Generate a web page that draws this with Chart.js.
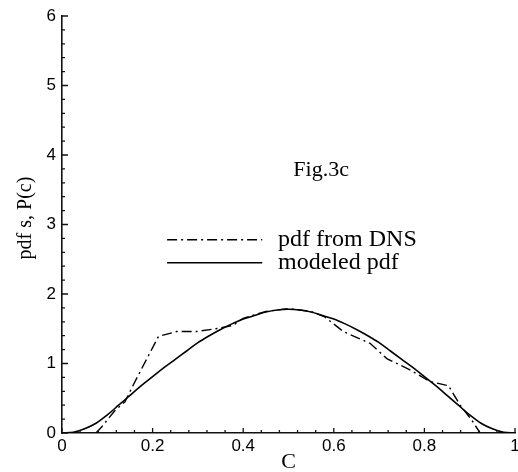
<!DOCTYPE html>
<html>
<head>
<meta charset="utf-8">
<script src="https://cdn.jsdelivr.net/npm/chart.js@4.4.1/dist/chart.umd.min.js"></script>
<style>
  html, body { margin: 0; padding: 0; background: #fff; }
  #wrap { width: 518px; height: 472px; }
</style>
</head>
<body>
<div id="wrap"><canvas id="pdfChart" width="518" height="472"></canvas></div>
<script>
// modeled pdf, P(c), sampled every 0.025
const modelC = [0, 0.025, 0.05, 0.075, 0.10, 0.125, 0.15, 0.175, 0.20, 0.225, 0.25, 0.275, 0.30, 0.325, 0.35, 0.375,
                0.40, 0.425, 0.45, 0.475, 0.50, 0.525, 0.55, 0.575, 0.60, 0.625, 0.65, 0.675, 0.70, 0.725, 0.75,
                0.775, 0.80, 0.825, 0.85, 0.875, 0.90, 0.925, 0.95, 0.975, 1.0];
const modelP = [0, 0.01, 0.06, 0.14, 0.26, 0.40, 0.54, 0.68, 0.81, 0.94, 1.06, 1.18, 1.30, 1.40, 1.49, 1.57,
                1.64, 1.69, 1.74, 1.77, 1.78, 1.77, 1.74, 1.69, 1.64, 1.57, 1.49, 1.40, 1.30, 1.18, 1.06,
                0.94, 0.81, 0.68, 0.54, 0.40, 0.26, 0.14, 0.06, 0.01, 0];

// pdf from DNS
const dnsC = [0.075, 0.088, 0.115, 0.139, 0.165, 0.213, 0.253, 0.297, 0.349, 0.378, 0.40, 0.45, 0.50, 0.55, 0.58,
              0.621, 0.68, 0.717, 0.768, 0.812, 0.853, 0.879, 0.904, 0.923];
const dnsP = [0, 0.09, 0.31, 0.45, 0.79, 1.39, 1.46, 1.46, 1.51, 1.55, 1.65, 1.75, 1.79, 1.75, 1.67,
              1.46, 1.29, 1.07, 0.91, 0.74, 0.68, 0.40, 0.19, 0];

const xTicks = [0, 0.2, 0.4, 0.6, 0.8, 1];
const yTicks = [0, 1, 2, 3, 4, 5, 6];

const legendLabels = ['pdf from DNS', 'modeled pdf'];
const figLabel = 'Fig.3c';
const xTitle = 'C';
const yTitle = 'pdf s, P(c)';

const SERIF = '"Liberation Serif", "Times New Roman", serif';
const SANS = '"Liberation Sans", Arial, sans-serif';
const DASH_DOT = [10, 4, 2, 4];

const toPoints = (xs, ys) => xs.map((x, i) => ({ x: x, y: ys[i] }));

// inward tick marks, minor and major
const tickMarks = {
    id: 'tickMarks',
    afterDraw(chart) {
        const { ctx, chartArea, scales } = chart;
        const xs = scales.x, ys = scales.y;
        ctx.save();
        ctx.strokeStyle = '#111';
        ctx.lineWidth = 1.3;
        ctx.beginPath();
        for (let i = 0; i <= 25; i++) {
            const px = xs.getPixelForValue(i * 0.04);
            const len = i % 5 === 0 ? 5 : 3;
            ctx.moveTo(px, chartArea.bottom);
            ctx.lineTo(px, chartArea.bottom - len);
        }
        for (let i = 0; i <= 30; i++) {
            const py = ys.getPixelForValue(i * 0.2);
            const len = i % 5 === 0 ? 6 : 3;
            ctx.moveTo(chartArea.left, py);
            ctx.lineTo(chartArea.left + len, py);
        }
        ctx.stroke();
        ctx.restore();
    }
};

// legend, figure label and axis titles
const annotations = {
    id: 'annotations',
    afterDraw(chart) {
        const { ctx, chartArea, scales } = chart;
        const xs = scales.x, ys = scales.y;
        ctx.save();
        ctx.fillStyle = '#000';
        ctx.strokeStyle = '#000';
        ctx.textBaseline = 'middle';

        ctx.font = '22px ' + SERIF;
        ctx.textAlign = 'center';
        ctx.fillText(figLabel, xs.getPixelForValue(0.572), ys.getPixelForValue(3.78));

        const x0 = xs.getPixelForValue(0.232);
        const x1 = xs.getPixelForValue(0.442);
        const xt = xs.getPixelForValue(0.477);
        const rows = [2.78, 2.45];
        ctx.font = '24px ' + SERIF;
        ctx.textAlign = 'left';
        rows.forEach((v, i) => {
            const py = ys.getPixelForValue(v);
            ctx.beginPath();
            ctx.lineWidth = 1.4;
            ctx.setLineDash(i === 0 ? DASH_DOT : []);
            ctx.moveTo(x0, py);
            ctx.lineTo(x1, py);
            ctx.stroke();
            ctx.setLineDash([]);
            ctx.fillText(legendLabels[i], xt, py);
        });

        ctx.font = '22px ' + SERIF;
        ctx.textAlign = 'center';
        ctx.fillText(xTitle, (chartArea.left + chartArea.right) / 2, 462);

        ctx.translate(26, 218);
        ctx.rotate(-Math.PI / 2);
        ctx.font = '20px ' + SERIF;
        ctx.fillText(yTitle, 0, 0);
        ctx.restore();
    }
};

new Chart(document.getElementById('pdfChart'), {
    type: 'line',
    data: {
        datasets: [
            {
                label: legendLabels[0],
                data: toPoints(dnsC, dnsP),
                borderColor: '#000',
                borderWidth: 1.4,
                borderDash: DASH_DOT,
                pointRadius: 0,
                tension: 0,
                fill: false
            },
            {
                label: legendLabels[1],
                data: toPoints(modelC, modelP),
                borderColor: '#000',
                borderWidth: 1.6,
                pointRadius: 0,
                cubicInterpolationMode: 'monotone',
                fill: false
            }
        ]
    },
    options: {
        responsive: false,
        animation: false,
        layout: { padding: { top: 16, right: 3, left: 0, bottom: 0 } },
        plugins: {
            legend: { display: false },
            tooltip: { enabled: false }
        },
        scales: {
            x: {
                type: 'linear',
                min: 0,
                max: 1,
                afterBuildTicks: (axis) => { axis.ticks = xTicks.map(v => ({ value: v })); },
                afterFit: (axis) => {
                    axis.height = 39;
                    axis.paddingLeft = 0;
                    axis.paddingRight = 0;
                },
                grid: { display: false, drawTicks: false },
                border: { display: true, color: '#111', width: 1.6 },
                ticks: {
                    color: '#000',
                    padding: 3,
                    maxRotation: 0,
                    font: { family: SANS, size: 17 },
                    callback: (v) => String(v)
                }
            },
            y: {
                type: 'linear',
                min: 0,
                max: 6,
                afterBuildTicks: (axis) => { axis.ticks = yTicks.map(v => ({ value: v })); },
                afterFit: (axis) => {
                    axis.width = 62;
                    axis.paddingTop = 0;
                    axis.paddingBottom = 0;
                },
                grid: { display: false, drawTicks: false },
                border: { display: true, color: '#111', width: 1.6 },
                ticks: {
                    color: '#000',
                    padding: 6,
                    font: { family: SANS, size: 17 },
                    callback: (v) => String(v)
                }
            }
        }
    },
    plugins: [tickMarks, annotations]
});
</script>
</body>
</html>
